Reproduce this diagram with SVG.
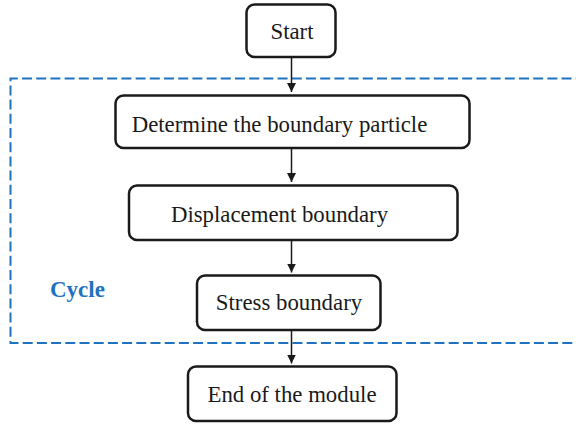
<svg xmlns="http://www.w3.org/2000/svg" width="576" height="424" viewBox="0 0 576 424">
  <defs>
    <marker id="arrow" viewBox="0 0 10 10" refX="10" refY="5" markerWidth="9" markerHeight="10" markerUnits="userSpaceOnUse" orient="auto">
      <path d="M0,0 L10,5 L0,10 Z" fill="#1a1a1a"/>
    </marker>
    <style>
      .box { fill: #ffffff; stroke: #1a1a1a; stroke-width: 2.5; }
      .label { font-family: "Liberation Serif", "Times New Roman", serif; font-size: 22.8px; fill: #1a1a1a; text-anchor: middle; }
      .conn { stroke: #1a1a1a; stroke-width: 1.5; fill: none; marker-end: url(#arrow); }
      .cycle { fill: none; stroke: #1f72c0; stroke-width: 2; stroke-dasharray: 10 4.2; }
      .cycle-label { font-family: "Liberation Serif", "Times New Roman", serif; font-size: 23px; font-weight: bold; fill: #1f72c0; }
    </style>
  </defs>
  <rect width="576" height="424" fill="#ffffff"/>

  <g id="cycle">
    <path class="cycle" d="M600,78.5 L10.5,78.5 L10.5,343 L600,343"/>
    <text class="cycle-label" x="50" y="297">Cycle</text>
  </g>

  <g id="connectors">
    <line class="conn" x1="291.5" y1="57" x2="291.5" y2="92"/>
    <line class="conn" x1="291.5" y1="148" x2="291.5" y2="182"/>
    <line class="conn" x1="291.5" y1="240" x2="291.5" y2="272.5"/>
    <line class="conn" x1="291.5" y1="330" x2="291.5" y2="363.5"/>
  </g>

  <g id="start">
    <rect class="box" x="246.5" y="4.5" width="89" height="52.5" rx="8"/>
    <text class="label" x="292" y="39">Start</text>
  </g>

  <g id="determine">
    <rect class="box" x="115.5" y="95.5" width="354" height="52.5" rx="8"/>
    <text class="label" x="279.5" y="132">Determine the boundary particle</text>
  </g>

  <g id="displacement">
    <rect class="box" x="129" y="185.5" width="328.5" height="54.5" rx="8"/>
    <text class="label" x="279.5" y="222">Displacement boundary</text>
  </g>

  <g id="stress">
    <rect class="box" x="197" y="275.5" width="183.5" height="54.5" rx="8"/>
    <text class="label" x="289" y="309.5">Stress boundary</text>
  </g>

  <g id="end">
    <rect class="box" x="188" y="366.5" width="208.5" height="54.5" rx="8"/>
    <text class="label" x="292" y="401.5">End of the module</text>
  </g>
</svg>
